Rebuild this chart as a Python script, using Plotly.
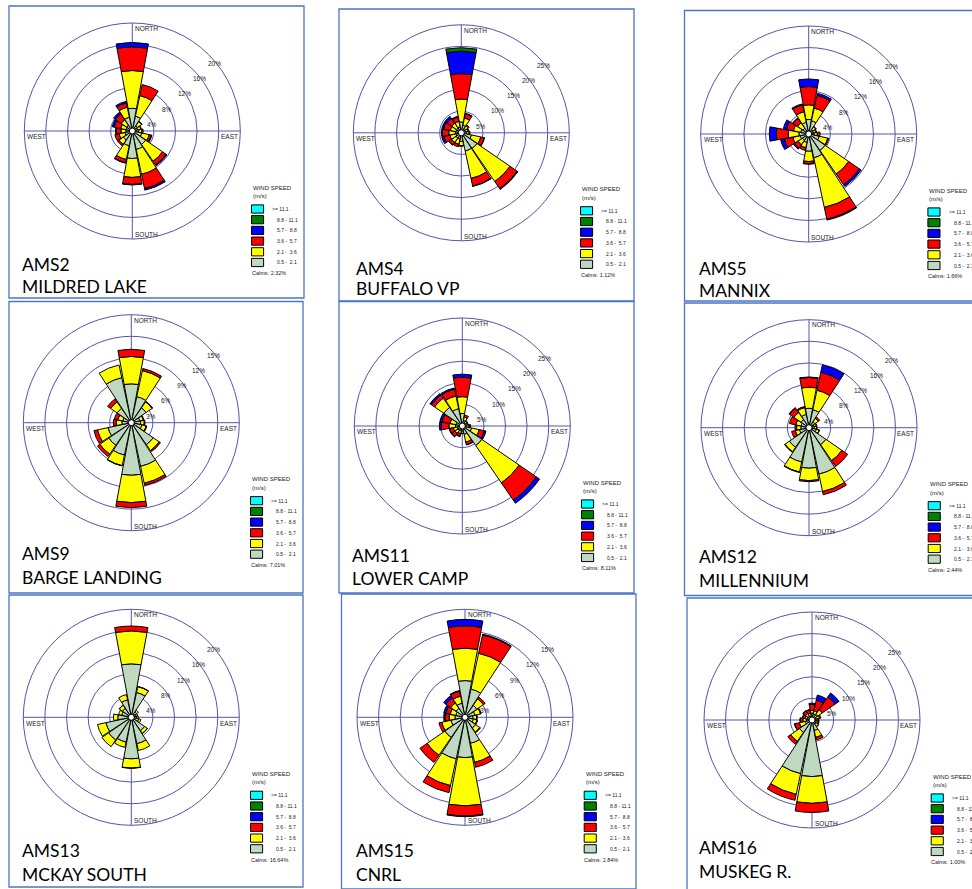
import plotly.graph_objects as go

W, H = 972, 889

# ---------------- data ----------------
directions = ["N", "NNE", "NE", "ENE", "E", "ESE", "SE", "SSE",
              "S", "SSW", "SW", "WSW", "W", "WNW", "NW", "NNW"]
speed_labels = [">= 11.1", "8.8 - 11.1", "5.7 -  8.8", "3.6 -  5.7", "2.1 -  3.6", "0.5 -  2.1"]
speed_colors = ["#00ffff", "#008000", "#0000ff", "#ff0000", "#ffff00", "#bfd9c1"]

station_ids = ["AMS2", "AMS4", "AMS5", "AMS9", "AMS11", "AMS12", "AMS13", "AMS15", "AMS16"]
station_names = ["MILDRED LAKE", "BUFFALO VP", "MANNIX", "BARGE LANDING", "LOWER CAMP",
                 "MILLENNIUM", "MCKAY SOUTH", "CNRL", "MUSKEG R."]
calms = ["2.32%", "1.12%", "1.66%", "7.01%", "8.11%", "2.44%", "16.64%", "2.84%", "1.00%"]
ring_values = [[4, 8, 12, 16, 20], [5, 10, 15, 20, 25], [4, 8, 12, 16, 20],
               [3, 6, 9, 12, 15], [5, 10, 15, 20, 25], [4, 8, 12, 16, 20],
               [4, 8, 12, 16, 20], [3, 6, 9, 12, 15], [5, 10, 15, 20, 25]]

# frequencies (%) per direction, per speed class (0.5-2.1, 2.1-3.6, 3.6-5.7, 5.7-8.8, 8.8-11.1)
ams2_c1 = [4.2, 2.8, 1.2, 1.0, 1.2, 1.8, 3.0, 3.5, 5.1, 2.8, 2.0, 1.4, 1.2, 1.2, 1.3, 2.6]
ams2_c2 = [7.0, 3.9, 0.9, 0.6, 0.6, 1.4, 3.8, 4.7, 3.5, 2.6, 1.0, 1.1, 0.9, 1.0, 1.2, 1.9]
ams2_c3 = [4.4, 2.1, 0.1, 0.1, 0.2, 0.4, 0.8, 2.7, 1.3, 0.6, 0.3, 0.8, 0.9, 1.2, 1.3, 0.8]
ams2_c4 = [0.8, 0.0, 0.0, 0.0, 0.0, 0.1, 0.2, 0.3, 0.1, 0.1, 0.0, 0.0, 0.1, 0.4, 0.4, 0.3]

ams4_c1 = [2.5, 1.8, 1.2, 1.0, 1.2, 2.4, 4.4, 4.3, 2.0, 1.5, 1.5, 1.3, 1.4, 1.3, 1.4, 1.4]
ams4_c2 = [5.3, 1.7, 0.8, 0.6, 0.6, 2.2, 9.3, 6.5, 1.0, 1.2, 1.2, 1.4, 1.5, 1.3, 1.3, 1.3]
ams4_c3 = [5.9, 1.0, 0.2, 0.2, 0.2, 0.8, 2.0, 1.8, 0.1, 0.6, 0.7, 1.4, 1.5, 1.6, 1.3, 1.0]
ams4_c4 = [5.2, 0.1, 0.0, 0.0, 0.0, 0.1, 0.2, 0.1, 0.0, 0.0, 0.1, 0.5, 0.2, 0.4, 0.6, 0.2]
ams4_c5 = [0.8, 0.0, 0.0, 0.0, 0.0, 0.0, 0.0, 0.0, 0.0, 0.0, 0.0, 0.0, 0.0, 0.0, 0.0, 0.0]

ams5_c1 = [2.7, 2.5, 1.0, 0.9, 1.0, 2.0, 3.7, 4.5, 3.2, 1.6, 1.4, 1.6, 1.8, 1.5, 1.3, 2.2]
ams5_c2 = [2.7, 2.4, 0.6, 0.5, 0.6, 1.6, 5.3, 9.4, 1.9, 1.0, 1.0, 1.4, 2.0, 1.4, 1.2, 2.0]
ams5_c3 = [3.4, 2.4, 0.1, 0.1, 0.5, 0.2, 2.4, 2.2, 0.4, 0.5, 0.8, 1.6, 2.2, 1.3, 1.0, 1.3]
ams5_c4 = [1.4, 0.4, 0.0, 0.0, 0.0, 0.0, 0.4, 0.2, 0.1, 0.0, 0.2, 0.7, 1.3, 0.6, 0.1, 0.2]

ams9_c1 = [5.4, 3.7, 2.5, 1.2, 1.3, 1.5, 3.7, 6.2, 7.3, 4.6, 3.8, 3.3, 1.3, 1.2, 2.4, 6.4]
ams9_c2 = [3.8, 3.7, 1.0, 0.5, 0.5, 0.6, 1.0, 2.4, 3.8, 1.5, 1.5, 1.5, 0.8, 0.7, 1.1, 1.8]
ams9_c3 = [1.0, 0.3, 0.1, 0.1, 0.1, 0.1, 0.2, 0.3, 0.7, 0.05, 0.4, 0.5, 0.4, 0.5, 0.5, 0.0]

ams11_c1 = [2.9, 1.3, 0.9, 0.9, 1.0, 2.2, 5.5, 2.0, 1.2, 1.1, 1.2, 1.2, 1.6, 1.5, 5.2, 4.1]
ams11_c2 = [3.9, 0.8, 0.5, 0.4, 0.6, 1.8, 10.5, 1.8, 0.5, 0.7, 0.9, 0.9, 1.5, 1.4, 2.6, 3.0]
ams11_c3 = [4.5, 0.5, 0.1, 0.1, 0.3, 1.2, 4.8, 0.6, 0.1, 0.6, 0.9, 0.9, 1.8, 1.9, 0.9, 1.6]
ams11_c4 = [0.7, 0.0, 0.0, 0.0, 0.0, 0.4, 0.9, 0.1, 0.0, 0.1, 0.1, 0.1, 0.4, 0.5, 0.4, 0.3]

ams12_c1 = [3.6, 3.4, 1.3, 1.0, 1.0, 1.4, 3.8, 8.8, 7.5, 6.5, 4.4, 1.8, 1.5, 1.5, 1.8, 2.5]
ams12_c2 = [3.9, 3.7, 0.8, 0.4, 0.4, 0.5, 3.6, 3.3, 2.3, 1.9, 1.0, 0.8, 0.8, 1.0, 1.6, 1.3]
ams12_c3 = [1.8, 3.4, 0.3, 0.1, 0.1, 0.1, 1.3, 0.6, 0.2, 0.1, 0.1, 0.7, 0.3, 1.2, 1.0, 0.2]
ams12_c4 = [0.1, 1.4, 0.0, 0.0, 0.0, 0.0, 0.0, 0.0, 0.0, 0.0, 0.0, 0.0, 0.0, 0.0, 0.1, 0.0]

ams13_c1 = [9.9, 4.7, 1.2, 0.9, 1.0, 1.4, 3.0, 5.0, 7.7, 4.7, 5.1, 4.8, 2.5, 1.8, 2.0, 3.3]
ams13_c2 = [6.1, 1.1, 0.4, 0.3, 0.3, 0.4, 0.6, 1.3, 1.7, 1.0, 1.5, 1.6, 0.8, 0.6, 0.7, 1.0]
ams13_c3 = [0.9, 0.05, 0.0, 0.0, 0.0, 0.0, 0.05, 0.0, 0.05, 0.0, 0.0, 0.0, 0.0, 0.0, 0.05, 0.0]

ams15_c1 = [5.1, 4.0, 2.0, 1.4, 1.1, 1.2, 1.8, 3.7, 5.6, 5.9, 3.4, 2.0, 1.4, 1.3, 1.5, 2.0]
ams15_c2 = [4.5, 5.1, 1.1, 0.8, 0.5, 0.5, 0.7, 2.7, 6.7, 3.8, 3.0, 1.3, 0.8, 0.8, 0.9, 1.0]
ams15_c3 = [3.1, 2.6, 0.3, 0.1, 0.1, 0.1, 0.1, 0.7, 1.4, 1.0, 1.2, 0.4, 0.6, 0.6, 0.8, 0.7]
ams15_c4 = [0.9, 0.1, 0.0, 0.0, 0.0, 0.0, 0.0, 0.0, 0.1, 0.0, 0.0, 0.0, 0.1, 0.3, 0.4, 0.1]

ams16_c1 = [1.6, 1.4, 1.6, 1.0, 0.9, 1.0, 1.2, 2.5, 13.1, 12.7, 3.5, 1.6, 1.3, 1.1, 1.1, 1.0]
ams16_c2 = [0.6, 0.8, 1.3, 0.8, 0.5, 0.5, 0.6, 1.6, 6.2, 4.9, 2.5, 1.4, 0.8, 0.6, 0.7, 0.6]
ams16_c3 = [1.4, 2.5, 3.6, 0.3, 0.2, 0.2, 0.1, 0.6, 2.1, 1.4, 0.8, 1.1, 0.6, 0.5, 0.7, 0.8]
ams16_c4 = [0.3, 1.2, 1.1, 0.0, 0.0, 0.0, 0.0, 0.0, 0.0, 0.0, 0.0, 0.05, 0.1, 0.1, 0.1, 0.1]

station_series = [
    [ams2_c1, ams2_c2, ams2_c3, ams2_c4],
    [ams4_c1, ams4_c2, ams4_c3, ams4_c4, ams4_c5],
    [ams5_c1, ams5_c2, ams5_c3, ams5_c4],
    [ams9_c1, ams9_c2, ams9_c3],
    [ams11_c1, ams11_c2, ams11_c3, ams11_c4],
    [ams12_c1, ams12_c2, ams12_c3, ams12_c4],
    [ams13_c1, ams13_c2, ams13_c3],
    [ams15_c1, ams15_c2, ams15_c3, ams15_c4],
    [ams16_c1, ams16_c2, ams16_c3, ams16_c4],
]

# ---------------- layout geometry (pixels) ----------------
centers = [(132.3, 131.0), (461.3, 132.8), (808.7, 134.0),
           (131.3, 422.7), (462.3, 426.0), (809.0, 427.7),
           (131.3, 717.3), (465.0, 717.3), (812.0, 720.0)]
RADIUS = 108.0
borders = [(9, 6, 304, 298), (339, 9, 634, 301), (684.5, 10.5, 976, 301),
           (9, 301.5, 303, 593), (339, 301.5, 634, 593), (684.5, 303, 976, 595.5),
           (9, 595, 303, 887), (341.5, 594, 636, 889), (687, 598, 976, 892)]
title_pos = [(21.3, 271.7, 293.0), (354.7, 274.7, 295.0), (698.0, 274.7, 297.0),
             (21.3, 560.0, 584.0), (351.3, 561.7, 585.0), (698.0, 563.3, 587.0),
             (21.3, 857.0, 881.0), (355.0, 857.3, 881.0), (698.0, 854.0, 878.0)]

RING_COLOR = "#5454ad"
BORDER_COLOR = "#4a76c4"
SMALL_FONT = "Liberation Sans, Arial, sans-serif"
TITLE_FONT = "Lato, Carlito, Calibri, sans-serif"

fill_colors = list(reversed(speed_colors))  # slowest class first

def px(x):
    return x / W

def py(y):
    return 1 - y / H

fig = go.Figure()
annotations = []
shapes = []
layout_polars = {}
theta = [i * 360.0 / len(directions) for i in range(len(directions))]

def text(x, y, s, size, xanchor="left", yanchor="middle", family=SMALL_FONT, color="#1a1a1a"):
    annotations.append(dict(x=px(x), y=py(y), xref="paper", yref="paper", text=s,
                            showarrow=False, xanchor=xanchor, yanchor=yanchor,
                            font=dict(family=family, size=size, color=color),
                            borderpad=0))

for k in range(len(station_ids)):
    cx, cy = centers[k]
    R = RADIUS
    rings = ring_values[k]
    rmax = rings[-1]
    pname = "polar" if k == 0 else f"polar{k + 1}"
    sub = "polar" if k == 0 else f"polar{k + 1}"
    for j, vals in enumerate(station_series[k]):
        rv = [v if v > 0 else None for v in vals]
        fig.add_trace(go.Barpolar(
            r=rv, theta=theta, width=21, subplot=sub,
            marker=dict(color=fill_colors[j], line=dict(color="black", width=1)),
            name=speed_labels[len(speed_labels) - 1 - j], showlegend=False,
            hoverinfo="skip"))
    layout_polars[pname] = dict(
        domain=dict(x=[px(cx - R), px(cx + R)], y=[py(cy + R), py(cy - R)]),
        bgcolor="rgba(0,0,0,0)",
        barmode="stack",
        angularaxis=dict(rotation=90, direction="clockwise", tick0=0, dtick=90,
                         showticklabels=False, ticks="", showgrid=True,
                         gridcolor=RING_COLOR, gridwidth=1, showline=True,
                         linecolor=RING_COLOR, linewidth=1),
        radialaxis=dict(range=[0, rmax], tickvals=rings[:-1], showticklabels=False,
                        ticks="", showline=False, gridcolor=RING_COLOR, gridwidth=1),
    )
    # center calm circle
    shapes.append(dict(type="circle", xref="paper", yref="paper",
                       x0=px(cx - 3.0), x1=px(cx + 3.0), y0=py(cy + 3.0), y1=py(cy - 3.0),
                       fillcolor="white", line=dict(color="black", width=1)))
    # direction labels
    text(cx + 1.5, cy - (R - 5.3), "NORTH", 6.5)
    text(cx + 1.5, cy + (R - 4.7), "SOUTH", 6.5)
    text(cx - R + 2, cy + 5.7, "WEST", 6.5)
    text(cx + R - 1.7, cy + 5.7, "EAST", 6.5, xanchor="right")
    # ring labels
    for v in rings:
        rr = R * v / rmax
        text(cx + rr * 0.7071 - 1.5, cy - rr * 0.7071 + 8.7, f"{v}%", 6.5)
    # legend
    text(cx + 119.5, cy + 56.7, "WIND SPEED", 6)
    text(cx + 119.5, cy + 65.0, "(m/s)", 6)
    for j, lab in enumerate(speed_labels):
        yc = cy + 78.0 + j * 10.7
        shapes.append(dict(type="rect", xref="paper", yref="paper",
                           x0=px(cx + 119.2), x1=px(cx + 131.3),
                           y0=py(yc + 4.1), y1=py(yc - 4.1),
                           fillcolor=speed_colors[j], line=dict(color="black", width=1)))
        lx = cx + 139.0 if j == 0 else cx + 144.0
        text(lx, yc, lab.replace("  ", "\u00a0\u00a0"), 5)
    text(cx + 118.4, cy + 142.3, "Calms: " + calms[k], 5.5)
    # titles
    tx, b1, b2 = title_pos[k]
    text(tx, b1 - 6.7, station_ids[k], 17.5, family=TITLE_FONT, color="black")
    text(tx, b2 - 6.7, station_names[k], 17.5, family=TITLE_FONT, color="black")
    # panel border
    x0, y0, x1, y1 = borders[k]
    shapes.append(dict(type="rect", xref="paper", yref="paper",
                       x0=px(x0), x1=px(x1), y0=py(y1), y1=py(y0),
                       fillcolor="rgba(0,0,0,0)", line=dict(color=BORDER_COLOR, width=1.3)))

fig.update_layout(
    width=W, height=H, margin=dict(l=0, r=0, t=0, b=0),
    paper_bgcolor="white", plot_bgcolor="white",
    showlegend=False, annotations=annotations, shapes=shapes,
    **layout_polars,
)

fig.write_html("out.html", config={"displayModeBar": False})
